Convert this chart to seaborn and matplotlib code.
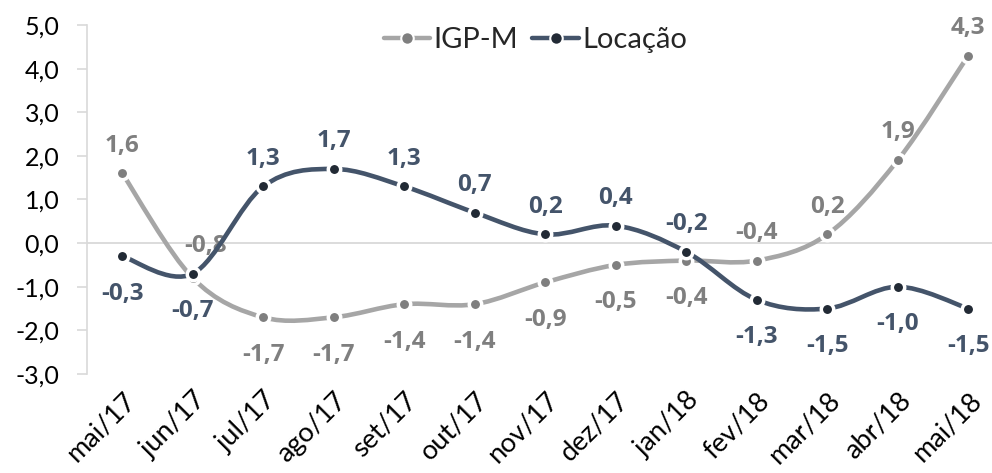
import numpy as np
import pandas as pd
import seaborn as sns
import matplotlib.pyplot as plt
from matplotlib.path import Path
from matplotlib.patches import PathPatch
from matplotlib.lines import Line2D

# data
meses = ["mai/17", "jun/17", "jul/17", "ago/17", "set/17", "out/17", "nov/17",
         "dez/17", "jan/18", "fev/18", "mar/18", "abr/18", "mai/18"]
igpm = [1.6, -0.8, -1.7, -1.7, -1.4, -1.4, -0.9, -0.5, -0.4, -0.4, 0.2, 1.9, 4.3]
locacao = [-0.3, -0.7, 1.3, 1.7, 1.3, 0.7, 0.2, 0.4, -0.2, -1.3, -1.5, -1.0, -1.5]
yticks = [-3, -2, -1, 0, 1, 2, 3, 4, 5]

# label placement: 1 = above the point, -1 = below
igpm_lado = [1, 1, -1, -1, -1, -1, -1, -1, -1, 1, 1, 1, 1]
loc_lado = [-1, -1, 1, 1, 1, 1, 1, 1, 1, -1, -1, -1, -1]

series = [
    ("IGP-M", igpm, igpm_lado, "#A6A6A6", "#7F7F7F", "#7F7F7F"),
    ("Locação", locacao, loc_lado, "#44546A", "#222A35", "#44546A"),
]

df = pd.DataFrame({"mes": meses, "pos": range(len(meses)),
                   "IGP-M": igpm, "Locação": locacao})
df = df.melt(id_vars=["mes", "pos"], var_name="serie", value_name="valor")

sns.set_theme(style="white")
plt.rcParams["font.family"] = ["Lato", "DejaVu Sans"]

fig = plt.figure(figsize=(9.92, 4.73), dpi=100)
ax = fig.add_axes([87 / 992, 99 / 473, 916.5 / 992, 349 / 473])


def smooth_path(x, y, t=1 / 6):
    # excel-like smoothed line as cubic bezier segments
    pts = np.column_stack([x, y]).astype(float)
    n = len(pts)
    verts = [pts[0]]
    codes = [Path.MOVETO]
    for i in range(n - 1):
        p0 = pts[max(i - 1, 0)]
        p1 = pts[i]
        p2 = pts[i + 1]
        p3 = pts[min(i + 2, n - 1)]
        verts += [p1 + (p2 - p0) * t, p2 - (p3 - p1) * t, p2]
        codes += [Path.CURVE4] * 3
    return Path(verts, codes)


ax.axhline(0, color="#D9D9D9", lw=1.3, zorder=1)

z = 2
for nome, vals, lado, cor_linha, cor_marca, cor_rotulo in series:
    sub = df[df["serie"] == nome]
    ax.add_patch(PathPatch(smooth_path(sub["pos"], sub["valor"]), facecolor="none",
                           edgecolor=cor_linha, lw=3.3, capstyle="round", zorder=z))
    sns.scatterplot(data=sub, x="pos", y="valor", ax=ax, color=cor_marca, s=80,
                    edgecolor="white", linewidth=2.5, zorder=z + 1, legend=False)
    for i, (v, l) in enumerate(zip(vals, lado)):
        dy = 20 if l > 0 else -27
        dx = 0
        if nome == "IGP-M" and i == 1:
            dx, dy = 9, 23
        ax.annotate(f"{v:.1f}".replace(".", ","), (i, v), xytext=(dx, dy),
                    textcoords="offset points", ha="center", va="center",
                    family=["Open Sans", "DejaVu Sans"], fontsize=17.5,
                    fontweight="bold", color=cor_rotulo, zorder=z + 2)
    z += 3

ax.set_xlim(-0.5, len(meses) - 0.5)
ax.set_ylim(-3, 5)
ax.set_yticks(yticks)
ax.set_yticklabels([f"{v:.1f}".replace(".", ",") for v in yticks])
ax.set_xticks(range(len(meses)))
ax.set_xticklabels(meses, rotation=45, ha="right", va="top", rotation_mode="anchor")
ax.set_xlabel("")
ax.set_ylabel("")

for s in ["top", "right", "bottom"]:
    ax.spines[s].set_visible(False)
ax.spines["left"].set_color("#D9D9D9")
ax.spines["left"].set_linewidth(1.2)
ax.tick_params(axis="y", length=7, width=1.2, color="#D9D9D9", pad=13,
               labelsize=18, labelcolor="black", left=True)
ax.tick_params(axis="x", length=0, pad=10, labelsize=19.5, labelcolor="black")

handles = [Line2D([], [], color=c_l, lw=3.2, marker="o", markersize=9,
                  markerfacecolor=c_m, markeredgecolor="white", markeredgewidth=1.5)
           for _, _, _, c_l, c_m, _ in series]
ax.legend(handles, [s[0] for s in series], loc="center", bbox_to_anchor=(0.489, 0.957),
          ncol=2, frameon=False, fontsize=21, handlelength=1.6, handletextpad=0.1,
          columnspacing=0.5)

fig.savefig("out.png", dpi=100)
